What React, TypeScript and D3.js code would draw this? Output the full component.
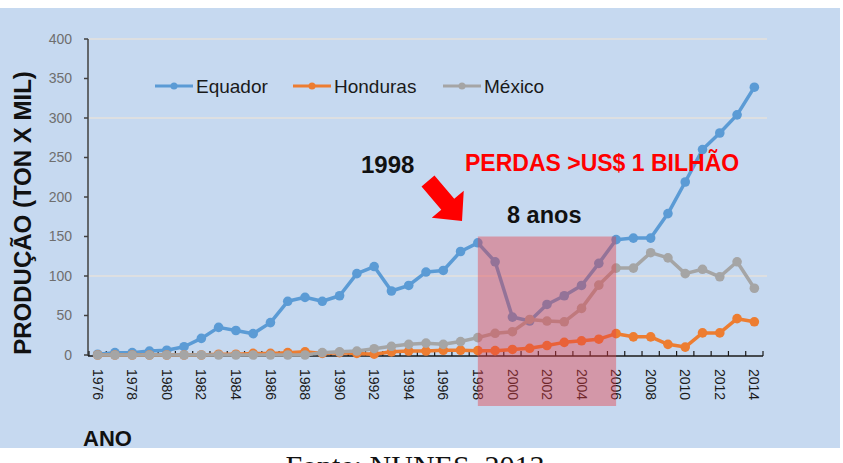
import React from 'react';
import * as d3 from 'd3';

// Banana production (thousand tonnes) by year
const years = [
  '1976', '1977', '1978', '1979', '1980', '1981', '1982', '1983', '1984', '1985',
  '1986', '1987', '1988', '1989', '1990', '1991', '1992', '1993', '1994', '1995',
  '1996', '1997', '1998', '1999', '2000', '2001', '2002', '2003', '2004', '2005',
  '2006', '2007', '2008', '2009', '2010', '2011', '2012', '2013', '2014',
];
const equador = [
  1, 3, 3, 5, 6, 10.5, 21, 35, 31, 27,
  41, 68, 73, 68, 75, 103, 112, 81, 88, 105,
  107, 131, 142, 118, 48, 43, 64, 75, 88, 116,
  146, 148, 148, 179, 219, 260, 281, 304, 339,
];
const honduras = [
  0, 0, 0, 0, 0, 0, 0, 1, 1, 2,
  2, 3, 4, 2, 3, 2, 1, 4, 5, 5,
  6, 6, 5.5, 5.5, 7, 8.5, 12, 16, 18, 20,
  27, 23, 23, 13.5, 10, 28, 28, 46, 42,
];
const mexico = [
  0, 0, 0, 0, 0, 0, 0, 0, 0, 0,
  0, 0, 0, 3, 4, 5, 8, 11, 13.5, 15,
  13.5, 17, 22, 27.5, 29.5, 45, 43, 42, 59, 88.5,
  110, 110, 129.5, 123, 103, 108.5, 99, 118, 84.5,
];
const seriesNames = ['Equador', 'Honduras', 'México'];
const seriesColors = ['#5b9bd5', '#ed7d31', '#a5a5a5'];
const seriesValues = [equador, honduras, mexico];

const yTicks = [0, 50, 100, 150, 200, 250, 300, 350, 400];
const gridValues = [100, 300, 400];
const xLabelYears = years.filter((_, i) => i % 2 === 0);

// Highlighted loss period
const lossStart = '1998';
const lossEnd = '2006';
const lossTop = 150;

const W = 843;
const H = 463;
const PLOT = { left: 89, right: 763, top: 39, bottom: 355 };
const LEGEND_X = [155, 293, 443];
const LEGEND_Y = 86;

function arrowPath(tx: number, ty: number, px: number, py: number) {
  const dx = px - tx;
  const dy = py - ty;
  const L = Math.hypot(dx, dy);
  const ux = dx / L;
  const uy = dy / L;
  const nx = -uy;
  const ny = ux;
  const head = 22;
  const headHalf = 21;
  const shaftHalf = 8.5;
  const local: [number, number][] = [
    [0, -shaftHalf],
    [L - head, -shaftHalf],
    [L - head, -headHalf],
    [L, 0],
    [L - head, headHalf],
    [L - head, shaftHalf],
    [0, shaftHalf],
  ];
  return (
    local
      .map(([u, v], i) => `${i === 0 ? 'M' : 'L'}${tx + u * ux + v * nx},${ty + u * uy + v * ny}`)
      .join('') + 'Z'
  );
}

export default function App() {
  const x = d3.scaleBand<string>().domain(years).range([PLOT.left, PLOT.right]).paddingInner(0).paddingOuter(0);
  const bw = x.bandwidth();
  const cx = (yr: string) => (x(yr) as number) + bw / 2;
  const y = d3.scaleLinear().domain([0, 400]).range([PLOT.bottom, PLOT.top]);

  const line = d3
    .line<number>()
    .x((_, i) => cx(years[i]))
    .y((d) => y(d));

  const lossX0 = cx(lossStart);
  const lossX1 = cx(lossEnd);
  const lossY0 = y(lossTop);
  const lossY1 = y(0) + 51;

  return (
    <svg
      width={W}
      height={H}
      style={{ position: 'absolute', left: 0, top: 0, display: 'block' }}
      fontFamily="'Liberation Sans', Arial, sans-serif"
    >
      <rect x={0} y={0} width={W} height={H} fill="#ffffff" />
      <rect x={0} y={8} width={840} height={440} fill="#c6d9f0" />

      {/* gridlines */}
      {gridValues.map((v) => (
        <line key={v} x1={PLOT.left} x2={PLOT.right + 4} y1={y(v)} y2={y(v)} stroke="#e4e0dc" strokeWidth={1.5} />
      ))}

      {/* y axis */}
      <line x1={PLOT.left - 1} x2={PLOT.left - 1} y1={y(400)} y2={y(0) + 1} stroke="#404040" strokeWidth={1.5} />
      {yTicks.map((v) => (
        <g key={v}>
          <line x1={PLOT.left - 5} x2={PLOT.left - 1} y1={y(v)} y2={y(v)} stroke="#404040" strokeWidth={1.5} />
          <text x={72} y={y(v)} dy="0.35em" textAnchor="end" fontSize={14} fill="#6e6e6e">
            {v}
          </text>
        </g>
      ))}

      {/* x axis */}
      <line x1={PLOT.left - 1} x2={PLOT.right} y1={y(0) + 1} y2={y(0) + 1} stroke="#1a1a1a" strokeWidth={1.5} />
      {years.concat(['end']).map((yr, i) => {
        const xx = i < years.length ? (x(yr) as number) : PLOT.right;
        return <line key={yr} x1={xx} x2={xx} y1={y(0) + 1} y2={y(0) - 4} stroke="#1a1a1a" strokeWidth={1.2} />;
      })}
      {xLabelYears.map((yr) => (
        <text
          key={yr}
          transform={`translate(${cx(yr)},${y(0) + 14}) rotate(90)`}
          dy="0.35em"
          textAnchor="start"
          fontSize={14}
          fill="#1a1a1a"
        >
          {yr}
        </text>
      ))}

      {/* series */}
      {seriesValues.map((vals, s) => (
        <g key={seriesNames[s]}>
          <path d={line(vals) as string} fill="none" stroke={seriesColors[s]} strokeWidth={3.5} strokeLinejoin="round" />
          {vals.map((v, i) => (
            <circle key={i} cx={cx(years[i])} cy={y(v)} r={4.8} fill={seriesColors[s]} />
          ))}
        </g>
      ))}

      {/* loss period */}
      <rect
        x={lossX0}
        y={lossY0}
        width={lossX1 - lossX0}
        height={lossY1 - lossY0}
        fill="rgb(228,60,70)"
        fillOpacity={0.42}
      />

      {/* legend */}
      {seriesNames.map((name, s) => (
        <g key={name}>
          <line
            x1={LEGEND_X[s]}
            x2={LEGEND_X[s] + 38}
            y1={LEGEND_Y}
            y2={LEGEND_Y}
            stroke={seriesColors[s]}
            strokeWidth={3}
          />
          <circle cx={LEGEND_X[s] + 19} cy={LEGEND_Y} r={3.5} fill={seriesColors[s]} />
          <text x={LEGEND_X[s] + 41} y={LEGEND_Y + 7} fontSize={19} fill="#1a1a1a">
            {name}
          </text>
        </g>
      ))}

      {/* annotations */}
      <text x={361} y={173} fontSize={24} fontWeight="bold" fill="#111">
        1998
      </text>
      <text x={465} y={171} fontSize={23} fontWeight="bold" fill="#ff0000">
        PERDAS &gt;US$ 1 BILHÃO
      </text>
      <text x={507} y={222.5} fontSize={23.5} fontWeight="bold" fill="#111">
        8 anos
      </text>
      <path d={arrowPath(428, 181, 462, 221)} fill="#ff0000" />

      {/* axis titles */}
      <text
        transform="translate(31,213) rotate(-90)"
        textAnchor="middle"
        fontSize={24}
        fontWeight="bold"
        fill="#111"
      >
        PRODUÇÃO (TON X MIL)
      </text>
      <text x={83} y={446} fontSize={22} fontWeight="bold" fill="#111">
        ANO
      </text>

      {/* source */}
      <text
        x={415}
        y={476}
        textAnchor="middle"
        fontSize={30}
        fontFamily="'Liberation Serif', 'Times New Roman', serif"
        fill="#111"
      >
        Fonte: NUNES, 2013
      </text>
    </svg>
  );
}
